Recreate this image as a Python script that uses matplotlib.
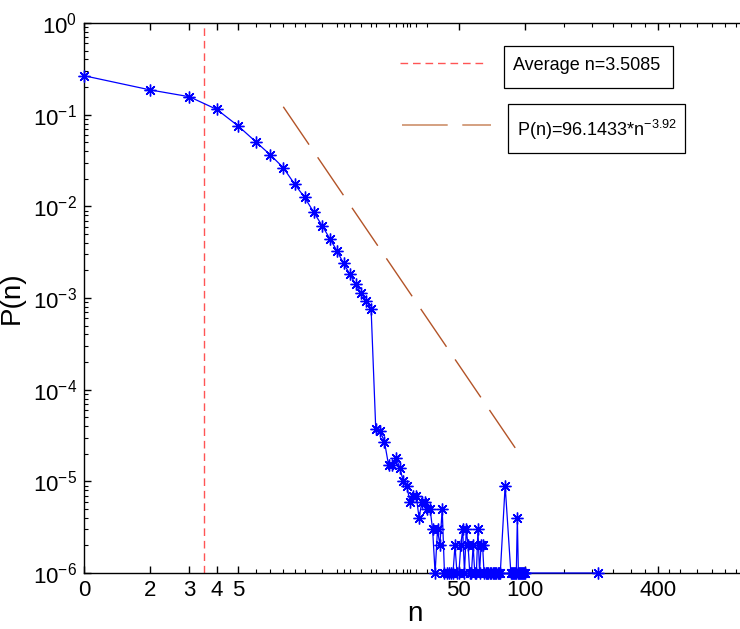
import matplotlib.pyplot as plt
import matplotlib.ticker as mticker
from matplotlib.patches import Rectangle
import numpy as np

plt.rcParams['font.family'] = ['Liberation Sans', 'DejaVu Sans']
plt.rcParams['mathtext.fontset'] = 'custom'
plt.rcParams['mathtext.rm'] = 'Liberation Sans'
plt.rcParams['mathtext.it'] = 'Liberation Sans:italic'
plt.rcParams['mathtext.default'] = 'regular'

# head of the distribution
n_head = list(range(1, 21))
p_head = [0.266, 0.186, 0.157, 0.114, 0.0752, 0.0507, 0.0363, 0.0264, 0.0175, 0.0125,
          0.0086, 0.00615, 0.00444, 0.00328, 0.00239, 0.00183, 0.00142, 0.00113,
          0.000935, 0.000764]

# tail: counts per million (only the nonzero n are plotted)
n_tail = list(range(21, 78)) + [81] + list(range(86, 101)) + [214]
count_tail = [37, 35, 27, 15, 15, 18, 14, 10, 9, 6,
              7, 7, 4, 6, 6, 5, 5, 3, 1, 3,
              2, 5, 1, 1, 1, 1, 1, 2, 1, 1,
              2, 3, 1, 3, 2, 1, 1, 2, 1, 1,
              3, 1, 2, 2, 1, 1, 1, 1, 1, 1,
              1, 1, 1, 1, 1, 1, 1,
              9,
              1, 1, 1, 1, 1, 1, 4, 1, 1, 1, 1, 1, 1, 1, 1,
              1]

avg_n = 3.5085
fit_n = [8.0, 91.3]
fit_p = [0.122, 2.2e-5]

x_ticks = [1, 2, 3, 4, 5, 50, 100, 400]
x_tick_labels = ['0', '2', '3', '4', '5', '50', '100', '400']
x_minor = [6, 7, 8, 9, 10, 12, 14, 15, 16, 18, 20, 21, 24, 26, 28, 29, 30, 32, 36,
           150, 200, 250, 300, 350, 450, 500, 600, 700, 800, 900]

n_all = np.array(n_head + n_tail, dtype=float)
p_all = np.array(p_head + [c * 1e-6 for c in count_tail])

fig = plt.figure(figsize=(7.4, 6.29), dpi=100)
ax = fig.add_axes([84 / 740, 56 / 629, 662 / 740, 550 / 629])

ax.plot(n_all, p_all, color='#0000ff', lw=0.9, marker=(8, 2, 0), ms=8.5,
        mew=1.0, clip_on=False, zorder=3)
ax.axvline(avg_n, color='#ff5555', lw=1.0, dashes=(5.5, 3.5))
ax.plot(fit_n, fit_p, color='#b35428', lw=1.0, dashes=(33, 11))

ax.set_xscale('log')
ax.set_yscale('log')
ax.set_xlim(1, 1000)
ax.set_ylim(1e-6, 1)

ax.xaxis.set_major_locator(mticker.FixedLocator(x_ticks))
ax.xaxis.set_major_formatter(mticker.FixedFormatter(x_tick_labels))
ax.xaxis.set_minor_locator(mticker.FixedLocator(x_minor))
ax.xaxis.set_minor_formatter(mticker.NullFormatter())
ax.yaxis.set_major_locator(mticker.LogLocator(base=10, numticks=10))
ax.yaxis.set_minor_locator(mticker.LogLocator(base=10, subs=np.arange(2, 10), numticks=10))

ax.tick_params(which='both', direction='in', top=True, right=False, labelsize=16, pad=5)
ax.tick_params(which='major', length=5, width=1)
ax.tick_params(which='minor', length=3, width=0.8)
for s in ax.spines.values():
    s.set_linewidth(1.0)

ax.set_xlabel('n', fontsize=20, labelpad=0)
ax.set_ylabel('P(n)', fontsize=20, labelpad=6)

# legend drawn as two separate boxes with samples to the left
ax.plot([0.477, 0.607], [0.927, 0.927], transform=ax.transAxes, color='#ff5555',
        lw=1.0, dashes=(5.5, 3.5), clip_on=False)
ax.plot([0.480, 0.615], [0.8145, 0.8145], transform=ax.transAxes, color='#d4a080',
        lw=1.4, dashes=(23.5, 7.5), clip_on=False)
ax.add_patch(Rectangle((0.6344, 0.8818), 0.2553, 0.0764, transform=ax.transAxes,
                       fill=False, lw=0.9, ec='black', clip_on=False))
ax.add_patch(Rectangle((0.6405, 0.7636), 0.2674, 0.0891, transform=ax.transAxes,
                       fill=False, lw=0.9, ec='black', clip_on=False))
ax.text(0.648, 0.9236, 'Average n=3.5085', transform=ax.transAxes, fontsize=13,
        va='center', ha='left')
ax.text(0.654, 0.8055, 'P(n)=96.1433*n$^{-3.92}$', transform=ax.transAxes, fontsize=13,
        va='center', ha='left')

fig.savefig('out.png', dpi=100)
